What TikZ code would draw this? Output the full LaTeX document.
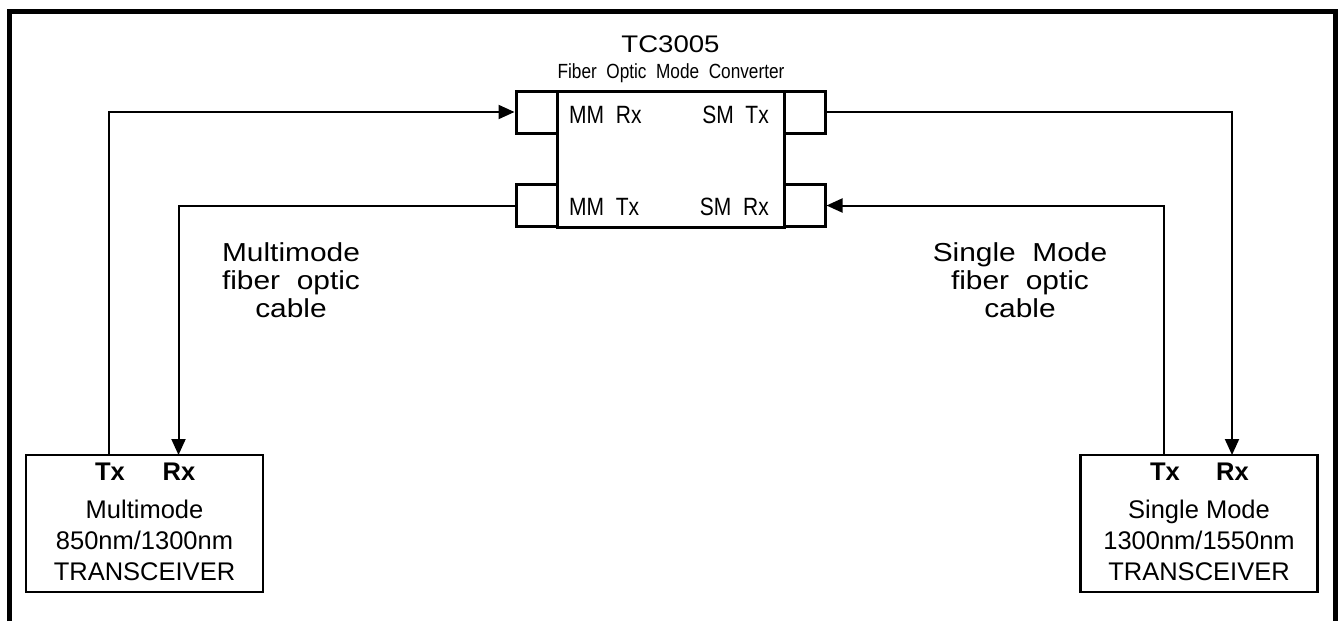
\documentclass[tikz,border=0pt]{standalone}
\usepackage{fontspec}
\setmainfont{Liberation Sans}
\newfontfamily\widefont[FakeStretch=1.15]{Liberation Sans}
\newfontfamily\narrowfont[FakeStretch=0.84]{Liberation Sans}
\usetikzlibrary{arrows.meta}
\tikzset{
  frameline/.style={line width=5pt},
  body/.style={draw, line width=3pt, minimum width=227pt, minimum height=136pt, inner sep=0pt},
  port/.style={draw, line width=3pt, fill=white, minimum width=41pt, minimum height=42pt, inner sep=0pt},
  xcvr/.style={draw, line width=2.5pt, minimum width=237pt, minimum height=137pt, inner sep=0pt},
  conn/.style={line width=2pt},
  arr/.style={conn, -{Triangle[length=16pt,width=14pt]}},
  txt/.style={anchor=base, inner sep=0pt, font=\fontsize{25.5}{30}\selectfont},
  bold/.style={txt, font=\fontsize{25.5}{30}\selectfont\bfseries},
  portlbl/.style={inner sep=0pt, font=\narrowfont\fontsize{25}{30}\selectfont},
  cablelbl/.style={align=center, inner sep=0pt, font=\widefont\fontsize{26}{27.8}\selectfont},
}
\begin{document}
\begin{tikzpicture}[x=1pt,y=-1pt]
\useasboundingbox (0,0) rectangle (1340,621);
% outer frame (open at the bottom)
\draw[frameline] (9.5,621) -- (9.5,11.5) -- (1335.5,11.5) -- (1335.5,621);

% converter
\node[body] (conv) at (670.5,159) {};
\node[port] (mmrx) at (536.5,112) {};
\node[port] (mmtx) at (536.5,205.5) {};
\node[port] (smtx) at (804.5,112) {};
\node[port] (smrx) at (804.5,205.5) {};
\node[anchor=base, inner sep=0pt, font=\widefont\fontsize{24}{28}\selectfont] (title) at (670.5,52) {TC3005};
\node[anchor=base, inner sep=0pt, font=\narrowfont\fontsize{20.5}{24}\selectfont] (sub) at (671,78) {Fiber\ \ Optic\ \ Mode\ \ Converter};
\node[portlbl, anchor=base west] (lmmrx) at (569,123) {MM\ \ Rx};
\node[portlbl, anchor=base east] (lsmtx) at (769,123) {SM\ \ Tx};
\node[portlbl, anchor=base west] (lmmtx) at (569,215) {MM\ \ Tx};
\node[portlbl, anchor=base east] (lsmrx) at (769,215) {SM\ \ Rx};

% transceivers
\node[xcvr] (xl) at (144.5,523.5) {};
\node[xcvr] (xr) at (1199,523.5) {};
\coordinate (txl) at (108.5,455);
\coordinate (rxl) at (178.5,455);
\coordinate (txr) at (1164,455);
\coordinate (rxr) at (1232,455);
\node[bold] (ltx) at (110,480) {Tx};
\node[bold] (lrx) at (179,480) {Rx};
\node[txt] (lm) at (144.5,518) {Multimode};
\node[txt] (lw) at (144.5,549) {850nm/1300nm};
\node[txt] (lt) at (144.5,580) {TRANSCEIVER};
\node[bold] (rtx) at (1165,480) {Tx};
\node[bold] (rrx) at (1232.5,480) {Rx};
\node[txt] (rm) at (1199,518) {Single\ Mode};
\node[txt] (rw) at (1199,549) {1300nm/1550nm};
\node[txt] (rt) at (1199,580) {TRANSCEIVER};

% cable labels
\node[cablelbl, anchor=base] (cl) at (291,317) {Multimode\\fiber\ \ optic\\cable};
\node[cablelbl, anchor=base] (cr) at (1020,317) {Single\ \ Mode\\fiber\ \ optic\\cable};

% connectors
\draw[arr] (txl) |- (mmrx.west);
\draw[arr] (mmtx.west) -| (rxl);
\draw[arr] (smtx.east) -| (rxr);
\draw[arr] (txr) |- (smrx.east);
\end{tikzpicture}
\end{document}
